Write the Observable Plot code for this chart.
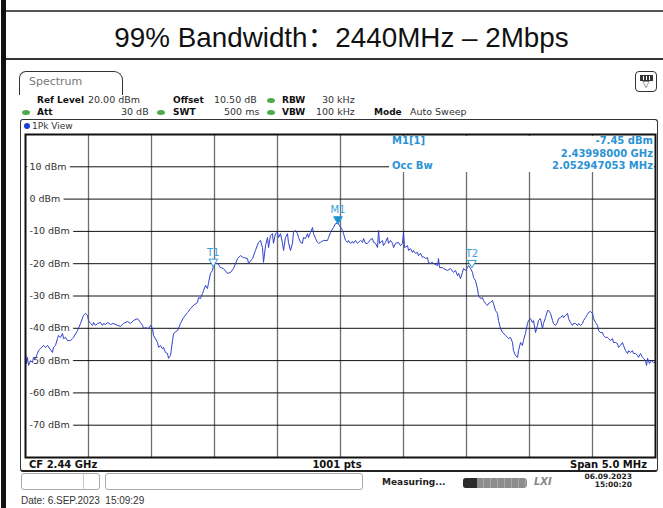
<!DOCTYPE html>
<html><head><meta charset="utf-8">
<script src="https://cdn.jsdelivr.net/npm/d3@7"></script>
<script src="https://cdn.jsdelivr.net/npm/@observablehq/plot@0.6"></script>
<style>
body{margin:0;background:#fff;}
#page{position:relative;width:663px;height:508px;overflow:hidden;font-family:"DejaVu Sans",sans-serif;background:#fff;}
.abs{position:absolute;white-space:pre;}
#chart{position:absolute;left:0;top:0;z-index:1;}
#info{z-index:2;background:#fff;}
</style></head><body><div id="page"></div>
<script>
// ---- data ----
const titleText = "99% Bandwidth\uFF1A2440MHz \u2013 2Mbps";
const centerMHz = 2440;
const freqOffsetMHz = [
-2.500,-2.492,-2.484,-2.476,-2.460,-2.444,-2.437,-2.421,-2.405,-2.397,
-2.381,-2.357,-2.341,-2.325,-2.302,-2.286,-2.278,-2.262,-2.246,-2.238,
-2.222,-2.206,-2.198,-2.183,-2.167,-2.143,-2.127,-2.119,-2.087,-2.063,
-2.040,-2.024,-2.008,-2.000,-1.984,-1.968,-1.960,-1.944,-1.929,-1.905,
-1.889,-1.881,-1.865,-1.849,-1.825,-1.802,-1.770,-1.746,-1.722,-1.690,
-1.667,-1.643,-1.611,-1.587,-1.571,-1.563,-1.548,-1.524,-1.508,-1.492,
-1.484,-1.452,-1.444,-1.429,-1.413,-1.405,-1.389,-1.373,-1.365,-1.349,
-1.333,-1.325,-1.294,-1.286,-1.270,-1.246,-1.214,-1.190,-1.167,-1.135,
-1.127,-1.111,-1.095,-1.087,-1.071,-1.056,-1.048,-1.032,-1.016,-1.008,
-0.992,-0.976,-0.952,-0.929,-0.897,-0.873,-0.849,-0.817,-0.794,-0.770,
-0.738,-0.730,-0.698,-0.675,-0.651,-0.635,-0.619,-0.611,-0.595,-0.579,
-0.571,-0.556,-0.540,-0.532,-0.516,-0.500,-0.492,-0.476,-0.460,-0.452,
-0.437,-0.421,-0.413,-0.397,-0.381,-0.373,-0.357,-0.341,-0.333,-0.317,
-0.302,-0.294,-0.278,-0.262,-0.254,-0.238,-0.222,-0.214,-0.198,-0.183,
-0.175,-0.159,-0.135,-0.103,-0.095,-0.079,-0.056,-0.040,-0.020,-0.008,
0.016,0.024,0.040,0.056,0.063,0.079,0.095,0.103,0.119,0.135,
0.143,0.159,0.175,0.183,0.198,0.214,0.222,0.238,0.254,0.262,
0.278,0.294,0.302,0.310,0.333,0.341,0.357,0.373,0.381,0.397,
0.413,0.421,0.437,0.460,0.476,0.492,0.500,0.508,0.532,0.540,
0.556,0.571,0.579,0.595,0.611,0.619,0.635,0.651,0.659,0.675,
0.690,0.698,0.714,0.730,0.738,0.770,0.778,0.786,0.810,0.817,
0.849,0.873,0.897,0.913,0.929,0.937,0.952,0.968,0.976,0.992,
1.008,1.016,1.032,1.048,1.056,1.071,1.087,1.095,1.111,1.127,
1.135,1.151,1.167,1.175,1.190,1.206,1.214,1.230,1.246,1.254,
1.270,1.286,1.310,1.325,1.333,1.349,1.365,1.373,1.389,1.405,
1.413,1.429,1.444,1.452,1.468,1.484,1.492,1.508,1.524,1.532,
1.548,1.563,1.571,1.587,1.603,1.611,1.627,1.643,1.651,1.667,
1.683,1.690,1.706,1.722,1.730,1.746,1.762,1.770,1.786,1.802,
1.810,1.825,1.841,1.849,1.865,1.881,1.889,1.905,1.921,1.929,
1.944,1.960,1.968,1.984,2.000,2.008,2.024,2.040,2.048,2.063,
2.079,2.087,2.103,2.119,2.127,2.143,2.159,2.167,2.183,2.198,
2.206,2.222,2.238,2.246,2.262,2.278,2.286,2.302,2.317,2.325,
2.341,2.357,2.365,2.381,2.397,2.405,2.421,2.429,2.437,2.452,
2.468,2.484,2.500];
const levelDbm = [
-47.5,-50.9,-49.0,-51.5,-50.0,-50.6,-49.0,-49.3,-47.8,-46.9,
-46.3,-45.3,-45.9,-45.3,-46.6,-47.5,-45.9,-45.3,-43.2,-42.2,
-42.8,-41.6,-43.2,-42.8,-43.8,-43.8,-43.2,-42.8,-40.7,-38.5,
-36.0,-35.4,-36.0,-37.6,-38.5,-39.1,-38.2,-39.1,-38.5,-38.2,
-39.1,-38.5,-38.8,-38.2,-38.8,-38.5,-39.1,-39.4,-38.5,-37.9,
-38.5,-37.6,-37.0,-38.2,-39.1,-40.1,-39.8,-40.1,-39.1,-40.1,
-42.2,-44.4,-45.9,-45.3,-46.3,-45.9,-47.5,-47.8,-49.3,-48.4,
-43.8,-41.6,-40.7,-40.1,-38.5,-36.7,-35.1,-33.9,-32.9,-32.0,
-30.5,-30.8,-29.2,-28.3,-26.7,-27.7,-26.1,-23.0,-22.1,-20.6,
-19.9,-19.9,-21.2,-21.5,-23.0,-22.7,-21.5,-18.4,-17.5,-18.1,
-18.4,-19.9,-18.4,-15.9,-13.4,-12.8,-15.0,-19.6,-14.4,-11.9,
-15.0,-11.3,-10.7,-13.7,-10.7,-10.3,-11.9,-10.7,-13.7,-15.9,
-11.9,-10.7,-13.4,-15.9,-13.7,-10.3,-9.7,-10.7,-11.9,-13.4,
-13.7,-11.9,-12.2,-10.7,-11.9,-10.3,-8.8,-10.7,-12.2,-13.4,
-13.7,-13.4,-12.8,-12.8,-11.9,-10.3,-8.8,-7.6,-7.45,-8.2,
-9.7,-10.7,-12.8,-13.4,-12.8,-13.7,-13.1,-13.7,-12.8,-13.7,
-13.4,-12.8,-13.4,-12.2,-13.7,-13.7,-13.4,-12.5,-12.2,-13.4,
-13.7,-15.0,-9.7,-13.7,-12.8,-14.4,-13.4,-11.9,-13.7,-12.8,
-13.7,-15.0,-13.7,-13.4,-14.4,-13.7,-10.3,-15.0,-14.4,-15.9,
-15.3,-16.5,-15.9,-16.8,-16.5,-17.5,-16.8,-18.1,-17.8,-18.4,
-18.1,-19.6,-19.9,-19.6,-19.9,-20.6,-18.4,-21.2,-21.2,-21.5,
-22.1,-21.5,-22.7,-22.1,-23.7,-23.0,-24.6,-22.7,-21.5,-22.1,
-21.2,-20.6,-21.5,-22.7,-24.3,-25.2,-27.7,-29.8,-30.8,-30.5,
-31.4,-32.3,-32.9,-32.3,-32.0,-31.4,-32.3,-34.5,-35.4,-37.6,
-40.1,-41.3,-42.2,-42.8,-43.2,-42.8,-44.4,-46.9,-48.4,-49.0,
-46.9,-44.4,-45.3,-43.8,-41.6,-38.5,-37.6,-37.0,-38.2,-37.6,
-41.3,-39.1,-37.6,-37.0,-40.1,-38.5,-36.7,-34.5,-34.5,-35.4,
-37.6,-38.5,-39.1,-38.2,-37.0,-36.7,-36.0,-36.7,-36.0,-35.4,
-37.0,-38.2,-39.1,-38.5,-38.5,-39.1,-38.5,-39.1,-38.5,-37.6,
-36.7,-35.7,-35.1,-34.8,-35.4,-37.0,-38.2,-39.1,-40.7,-41.3,
-41.3,-42.2,-42.8,-42.8,-43.2,-43.8,-43.2,-44.4,-44.4,-44.7,
-45.9,-45.3,-44.4,-45.3,-46.9,-47.8,-46.9,-47.5,-46.9,-47.8,
-47.8,-48.4,-49.0,-47.8,-49.0,-49.3,-50.0,-51.5,-49.3,-50.9,
-50.0,-50.6,-50.6];
const levelTicks = [10, 0, -10, -20, -30, -40, -50, -60, -70];
const freqGrid = [-2.0, -1.5, -1.0, -0.5, 0, 0.5, 1.0, 1.5, 2.0];
const markerNames = ["M1", "T1", "T2"];
const markerFreq = [-0.020, -1.010, 1.043];
const markerLevel = [-7.45, -20.6, -21.0];
const infoLeft = ["M1[1]", "", "Occ Bw"];
const infoRight = ["-7.45 dBm", "2.43998000 GHz", "2.052947053 MHz"];
const headerRow1 = [["Ref Level",37,1],["20.00 dBm",88,0],["Offset",173,1],["10.50 dB",214,0],["RBW",282,1],["30 kHz",322,0]];
const headerRow2 = [["Att",37,1],["30 dB",121,0],["SWT",173,1],["500 ms",224,0],["VBW",282,1],["100 kHz",316,0],["Mode",374,1],["Auto Sweep",410,0]];
const headerDots1 = [271];
const headerDots2 = [26, 161, 271];
const footerLeft = "CF 2.44 GHz", footerMid = "1001 pts", footerRight = "Span 5.0 MHz";
const statusText = "Measuring...";
const stampDate = "06.09.2023", stampTime = "15:00:20";
const dateLine = "Date: 6.SEP.2023  15:09:29";

// ---- chrome ----
const page = document.getElementById("page");
function el(css, text) {
  const d = document.createElement("div");
  d.className = "abs";
  d.style.cssText = css;
  if (text !== undefined) d.textContent = text;
  page.appendChild(d);
  return d;
}
el("left:1px;top:0;width:5px;height:508px;background:#111;");
el("left:6px;top:10px;width:657px;height:1.5px;background:#555;");
el("left:6px;top:58px;width:657px;height:2px;background:#333;");
el("left:0;top:19px;width:683px;height:38px;line-height:38px;text-align:center;font-family:'Liberation Sans','Noto Sans CJK SC',sans-serif;font-size:27.8px;color:#111;", titleText);
// tab
el("left:19px;top:71px;width:102px;height:23px;border:1.2px solid #333;border-bottom:none;border-radius:7px 9px 0 0;");
el("left:29px;top:75px;font-size:11px;color:#777;line-height:14px;", "Spectrum");
// icon
el("left:635px;top:71px;width:20px;height:19px;border:1.3px solid #333;border-radius:4px;");
el("left:640px;top:75px;width:11px;height:4px;border:1px solid #333;background:repeating-linear-gradient(90deg,#333 0 2px,#fff 2px 3px);");
el("left:639px;top:79px;width:14px;text-align:center;font-size:9px;line-height:10px;color:#333;", "\u25BD");
// header rows
const hstyle = b => `font-size:${b?9:9.5}px;line-height:12px;color:${b?"#111":"#333"};font-weight:${b?"bold":"normal"};`;
for (const [t,x,b] of headerRow1) el(`left:${x}px;top:94px;` + hstyle(b), t);
for (const [t,x,b] of headerRow2) el(`left:${x}px;top:106px;` + hstyle(b), t);
for (const x of headerDots1) el(`left:${x-4}px;top:97.5px;width:8px;height:5px;border-radius:50%;background:#4caa4c;`);
for (const x of headerDots2) el(`left:${x-4}px;top:109.5px;width:8px;height:5px;border-radius:50%;background:#4caa4c;`);
// view box
el("left:20px;top:119px;width:636px;height:350px;border:1px solid #333;border-bottom:2.5px solid #222;border-radius:3px;");
el("left:24px;top:123px;width:6px;height:6px;border-radius:50%;background:#1b3fd6;");
el("left:32px;top:120px;font-size:9px;line-height:12px;color:#333;", "1Pk View");
// footer row
el("left:29px;top:459px;font-size:10px;line-height:12px;font-weight:bold;color:#111;", footerLeft);
el("left:287px;top:459px;width:100px;text-align:center;font-size:10px;line-height:12px;font-weight:bold;color:#111;", footerMid);
el("left:447px;top:459px;width:200px;text-align:right;font-size:10px;line-height:12px;font-weight:bold;color:#111;", footerRight);
// status bar
el("left:21px;top:473px;width:77px;height:15px;border:1px solid #aaa;border-radius:3px;");
el("left:83px;top:474px;width:1px;height:15px;background:#ccc;");
el("left:105px;top:473px;width:256px;height:15px;border:1px solid #aaa;border-radius:3px;");
el("left:382px;top:476px;font-size:9px;line-height:12px;font-weight:bold;color:#222;", statusText);
el("left:463px;top:478px;width:64px;height:10px;border-radius:3px;overflow:hidden;background:repeating-linear-gradient(90deg,#8d8d8d 0 6px,#aaa 6px 7px);");
el("left:463px;top:478px;width:14px;height:10px;border-radius:3px 0 0 3px;background:#2c2c2c;");
el("left:534px;top:476px;font-size:10px;line-height:12px;font-weight:bold;font-style:italic;color:#888;", "LXI");
el("left:572px;top:473px;width:60px;text-align:right;font-size:7.5px;line-height:8px;font-weight:bold;color:#222;", stampDate);
el("left:572px;top:481px;width:60px;text-align:right;font-size:7.5px;line-height:8px;font-weight:bold;color:#222;", stampTime);
el("left:21px;top:495px;font-family:'Liberation Sans',sans-serif;font-size:10px;line-height:12px;color:#333;", dateLine);

// ---- chart ----
const trace = freqOffsetMHz.map((f, i) => ({f, dbm: levelDbm[i]}));
const markers = markerNames.map((name, i) => ({name, f: markerFreq[i], dbm: markerLevel[i]}));
const chart = Plot.plot({
  width: 663, height: 508,
  marginLeft: 25, marginRight: 8, marginTop: 134, marginBottom: 51,
  x: {domain: [-2.5, 2.5], axis: null},
  y: {domain: [-80, 20], axis: null},
  style: {background: "transparent", fontFamily: "DejaVu Sans", overflow: "visible"},
  marks: [
    Plot.ruleX(freqGrid, {stroke: "#6e6e6e", strokeWidth: 1.3}),
    Plot.ruleY(levelTicks, {stroke: "#111", strokeWidth: 1}),
    Plot.text(levelTicks, {x: -2.5, y: d => d, text: d => `${d} dBm`, textAnchor: "start", dx: 4,
      fill: "#333", stroke: "white", strokeWidth: 8, paintOrder: "stroke", fontSize: 9.5}),
    Plot.line(trace, {x: "f", y: "dbm", stroke: "#3040cc", strokeWidth: 1}),
    Plot.dot(markers, {x: "f", y: "dbm", symbol: "triangle", rotate: 180, r: 3.2, dy: -4,
      fill: d => d.name === "M1" ? "#1d8fd3" : "white", stroke: "#2a9ad8", strokeWidth: 1}),
    Plot.text(markers, {x: "f", y: "dbm", text: "name", dy: -13, fill: "#3aa2dc", fontSize: 10}),
    Plot.frame({stroke: "#111", strokeWidth: 2})
  ]
});
chart.id = "chart";
page.appendChild(chart);

// marker info box (over the grid, top right)
const info = el("left:389px;top:135.5px;width:265px;height:36px;", undefined);
info.id = "info";
infoLeft.forEach((t, i) => { if (t) el(`left:392px;top:${135 + i*12.5}px;font-size:10px;line-height:12px;font-weight:bold;color:#2a93d5;z-index:3;`, t); });
infoRight.forEach((t, i) => el(`left:453px;top:${135 + i*12.5}px;width:200px;text-align:right;font-size:10px;line-height:12px;font-weight:bold;color:#2a93d5;z-index:3;`, t));
</script></body></html>
